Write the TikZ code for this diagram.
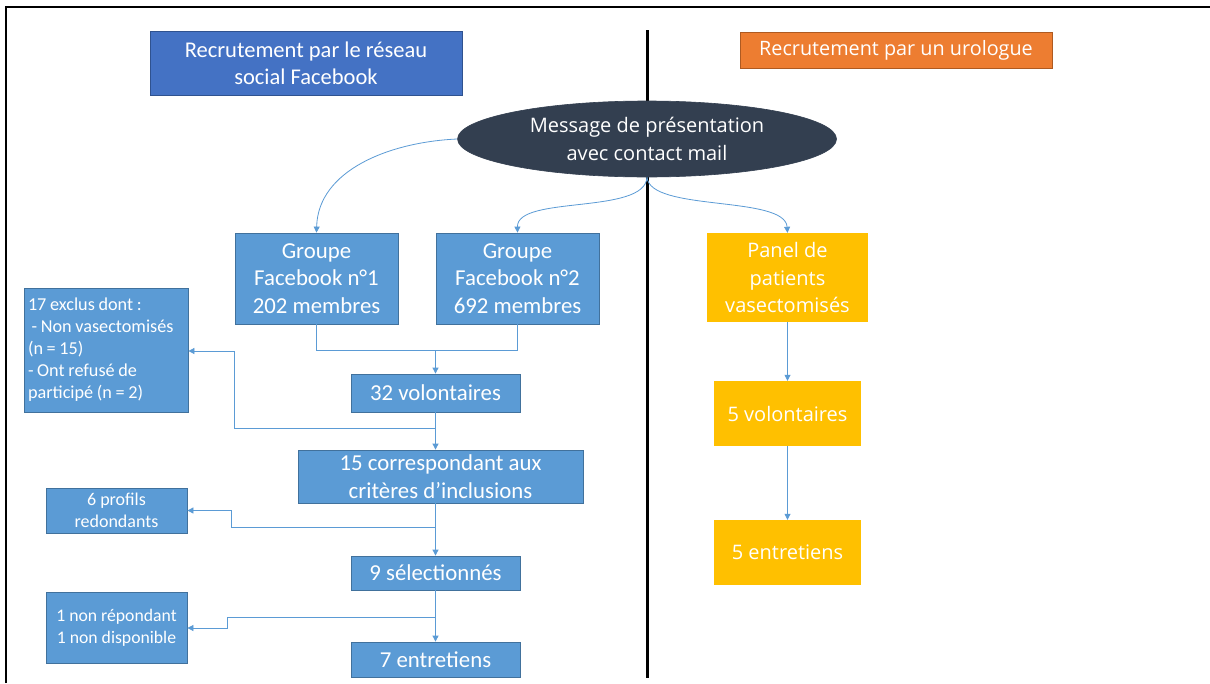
\documentclass[tikz,border=0pt]{standalone}
\usepackage{fontspec}
\setmainfont{Carlito}
\newfontfamily\rfont{Open Sans}
\usetikzlibrary{arrows.meta,shapes.geometric}
\definecolor{cblue}{HTML}{5B9BD5}
\definecolor{cblueb}{HTML}{41719C}
\definecolor{ctitle}{HTML}{4472C4}
\definecolor{ctitleb}{HTML}{2F528F}
\definecolor{corange}{HTML}{ED7D31}
\definecolor{coranb}{HTML}{AE5A21}
\definecolor{cyellow}{HTML}{FFC000}
\definecolor{cdark}{HTML}{333F50}
\definecolor{cline}{HTML}{5B9BD5}
\tikzset{
  bbox/.style={fill=cblue,draw=cblueb,line width=0.8pt,text=white,align=center,inner sep=0pt,
    font=\fontsize{22.8}{27.5}\selectfont},
  sbox/.style={fill=cblue,draw=cblueb,line width=0.8pt,text=white,inner sep=0pt},
  ybox/.style={fill=cyellow,text=white,align=center,inner sep=0pt,
    font=\rfont\fontsize{20}{27.5}\selectfont},
  conn/.style={draw=cline,line width=0.8pt},
  arr/.style={conn,-{Triangle[length=6pt,width=6pt]}},
}
\begin{document}
\begin{tikzpicture}[x=1pt,y=-1pt]
\useasboundingbox (0,0) rectangle (1210,683);
\fill[white] (0,0) rectangle (1210,683);
% frame
\draw[line width=2.5pt] (6,683) -- (6,7) -- (1210,7);
% divider
\draw[line width=3pt] (647,30) -- (647,678);
% titles
\node[fill=ctitle,draw=ctitleb,line width=0.8pt,text=white,align=center,inner sep=0pt,
  minimum width=312pt,minimum height=64pt,font=\fontsize{22.5}{27}\selectfont]
  (t1) at (306,63) {Recrutement par le réseau\\social Facebook};
\node[fill=corange,draw=coranb,line width=0.8pt,text=white,inner sep=0pt,
  minimum width=312pt,minimum height=36pt,font=\rfont\fontsize{19.8}{22}\selectfont]
  (t2) at (896,50) {Recrutement par un urologue};
% ellipse
\node[ellipse,fill=cdark,draw=cdark,line width=0.6pt,text=white,align=center,inner sep=0pt,
  minimum width=379pt,minimum height=76pt,font=\rfont\fontsize{20}{28}\selectfont]
  (e) at (647,139) {Message de présentation\\avec contact mail};
% left boxes
\node[bbox,minimum width=163pt,minimum height=91pt] (g1) at (316.5,278.5) {Groupe\\Facebook n°1\\202 membres};
\node[bbox,minimum width=163pt,minimum height=91pt] (g2) at (517.5,278.5) {Groupe\\Facebook n°2\\692 membres};
\node[bbox,minimum width=169pt,minimum height=38pt] (v32) at (435.5,393) {32 volontaires};
\node[bbox,minimum width=285pt,minimum height=53pt] (c15) at (440.5,476.5) {15 correspondant aux\\critères d’inclusions};
\node[bbox,minimum width=169pt,minimum height=34pt] (s9) at (435.5,573) {9 sélectionnés};
\node[bbox,minimum width=169pt,minimum height=35pt] (e7) at (435.5,659.5) {7 entretiens};
\node[sbox,minimum width=164pt,minimum height=124pt,align=left,text width=156pt,inner xsep=4pt,
  font=\fontsize{18.2}{22}\selectfont]
  (ex) at (106,350) {\spaceskip=0.2em\relax 17 exclus dont :\\\ - Non vasectomisés\\(n = 15)\\- Ont refusé de\\participé (n = 2)};
\node[sbox,align=center,minimum width=141pt,minimum height=45pt,font=\fontsize{18}{22}\selectfont]
  (p6) at (116.5,510.5) {6 profils\\redondants};
\node[sbox,align=center,minimum width=141pt,minimum height=71pt,font=\fontsize{17.7}{22}\selectfont]
  (nr) at (116.5,627.5) {1 non répondant\\1 non disponible};
% right boxes
\node[ybox,minimum width=161pt,minimum height=89pt] (pn) at (787.5,277.5) {Panel de\\patients\\vasectomisés};
\node[ybox,minimum width=147pt,minimum height=65pt] (v5) at (787.5,413.5) {5 volontaires};
\node[ybox,minimum width=147pt,minimum height=65pt] (e5) at (787.5,552.5) {5 entretiens};
% coordinates
\coordinate (j1) at (435.5,350);
\coordinate (j2) at (435.5,428);
\coordinate (j3) at (435.5,527);
\coordinate (j4) at (435.5,617);
% curves
\draw[arr] (e.west) .. controls (390,142) and (318,170) .. (g1.north);
\draw[arr] (e.south) .. controls (645,215) and (517,195) .. (g2.north);
\draw[arr] (e.south) .. controls (650,212) and (785,195) .. (pn.north);
% merges
\draw[conn] (g1.south) |- (j1);
\draw[conn] (g2.south) |- (j1);
\draw[arr] (j1) -- (v32.north);
\draw[arr] (v32.south) -- (v32.south |- c15.north);
\draw[arr] (j2) -- (234,428) -- (234,351) -- (ex.east |- 0,351);
\draw[arr] (v32.south |- c15.south) -- (s9.north);
\draw[arr] (j3) -- (231,527) -- (231,510.5) -- (p6.east);
\draw[arr] (s9.south) -- (e7.north);
\draw[arr] (j4) -- (227,617) -- (227,628) -- (nr.east |- 0,628);
\draw[arr] (pn.south) -- (v5.north);
\draw[arr] (v5.south) -- (e5.north);
\end{tikzpicture}
\end{document}
